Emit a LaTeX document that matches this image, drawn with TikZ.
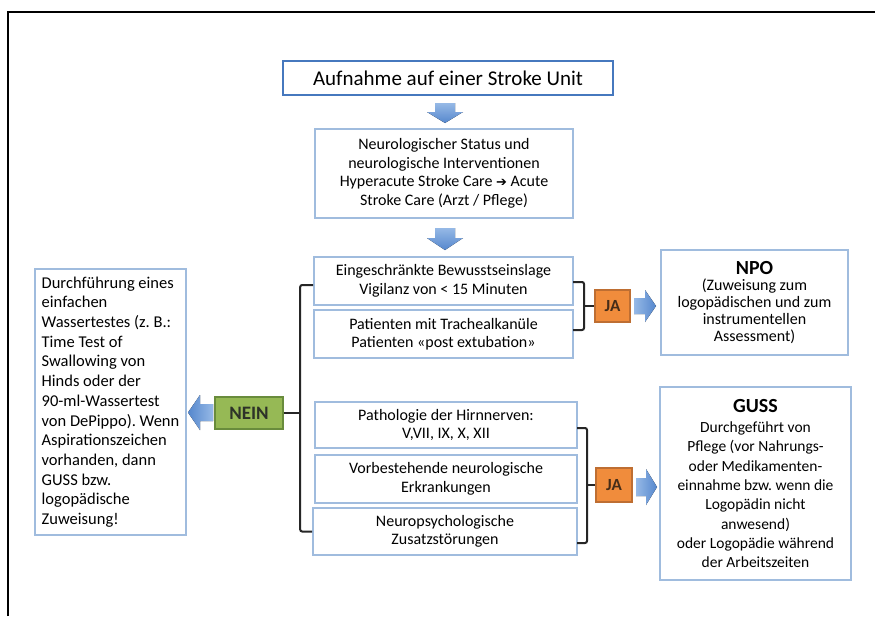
\documentclass[tikz,border=0pt]{standalone}
\usepackage{fontspec}
\setmainfont{Carlito}
\newfontfamily\symfont{DejaVu Sans}
\usetikzlibrary{calc}
\definecolor{boxline}{RGB}{160,188,222}
\definecolor{titleline}{RGB}{70,120,190}
\definecolor{jafill}{RGB}{240,140,60}
\definecolor{jaline}{RGB}{190,110,50}
\definecolor{jatext}{RGB}{70,45,25}
\definecolor{neinfill}{RGB}{150,185,85}
\definecolor{neinline}{RGB}{105,140,60}
\definecolor{neintext}{RGB}{45,50,40}
\definecolor{arrtop}{RGB}{150,185,230}
\definecolor{arrbot}{RGB}{85,135,205}
\tikzset{
  lbox/.style={draw=boxline, line width=1.6pt, fill=white, inner sep=0pt, align=center, font=\fontsize{16}{18.5}\selectfont},
  titlebox/.style={draw=titleline, line width=2.4pt, fill=white, inner sep=0pt, align=center, font=\fontsize{21}{24}\selectfont},
  jabox/.style={draw=jaline, line width=1.2pt, fill=jafill, inner sep=0pt, text=jatext, font=\fontsize{17}{18}\selectfont\bfseries},
  neinbox/.style={draw=neinline, line width=1.2pt, fill=neinfill, inner sep=0pt, text=neintext, font=\fontsize{19}{20}\selectfont\bfseries},
  brack/.style={draw=black!85, line width=2pt, rounded corners=2pt},
  blockarr/.style={top color=arrtop, bottom color=arrbot, draw=none},
  blockarrh/.style={left color=arrtop, right color=arrbot, draw=none},
  blockarrl/.style={right color=arrtop, left color=arrbot, draw=none}
}
\begin{document}
\frenchspacing
\begin{tikzpicture}[x=1pt,y=-1pt]
\useasboundingbox (0,0) rectangle (875,616);
\fill[white] (0,0) rectangle (875,616);
% frame
\draw[line width=2pt] (8,616) -- (8,12) -- (876,12);

% nodes
\node[titlebox, minimum width=330pt, minimum height=34pt] (title) at (448,78) {Aufnahme auf einer Stroke Unit};
\node[lbox, minimum width=258pt, minimum height=89pt] (status) at (444,173.5)
  {Neurologischer Status und\\neurologische Interventionen\\Hyperacute Stroke Care {\symfont\fontsize{13}{14}\selectfont\bfseries ➔} Acute\\Stroke Care (Arzt / Pflege)};
\node[lbox, minimum width=259pt, minimum height=48pt] (bew) at (443.5,281)
  {Eingeschränkte Bewusstseinslage\\Vigilanz von < 15 Minuten};
\node[lbox, minimum width=259pt, minimum height=48pt] (trach) at (443.5,334)
  {Patienten mit Trachealkanüle\\Patienten «post extubation»};
\node[lbox, minimum width=262pt, minimum height=46pt] (patho) at (446,425)
  {Pathologie der Hirnnerven:\\V,VII, IX, X, XII};
\node[lbox, minimum width=262pt, minimum height=48pt] (vorb) at (446,479)
  {Vorbestehende neurologische\\Erkrankungen};
\node[lbox, minimum width=264pt, minimum height=47pt] (neuro) at (445,531.5)
  {Neuropsychologische\\Zusatzstörungen};
\node[jabox, minimum width=35pt, minimum height=32pt] (ja1) at (612.5,306) {JA};
\node[jabox, minimum width=36pt, minimum height=34pt] (ja2) at (614,485) {JA};
\node[neinbox, minimum width=68pt, minimum height=32pt] (nein) at (249,413) {NEIN};
\node[lbox, minimum width=187pt, minimum height=105pt, font=\fontsize{16}{17}\selectfont] (npo) at (754.5,302.5)
  {{\fontsize{20}{22}\selectfont\bfseries NPO}\\[-1pt](Zuweisung zum\\logopädischen und zum\\instrumentellen\\Assessment)};
\node[lbox, minimum width=191pt, minimum height=193pt, font=\fontsize{15.5}{19.3}\selectfont] (guss) at (755.5,483.5)
  {{\fontsize{20}{22}\selectfont\bfseries GUSS}\\[1pt]Durchgeführt von\\Pflege (vor Nahrungs-\\oder Medikamenten-\\einnahme bzw. wenn die\\Logopädin nicht\\anwesend)\\oder Logopädie während\\der Arbeitszeiten};
\node[lbox, minimum width=151pt, minimum height=266pt, align=left, font=\fontsize{16.5}{19.7}\selectfont] (wasser) at (110.5,402)
  {Durchführung eines\\einfachen\\Wassertestes (z. B.:\\Time Test of\\Swallowing von\\Hinds oder der\\90-ml-Wassertest\\von DePippo). Wenn\\Aspirationszeichen\\vorhanden, dann\\GUSS bzw.\\logopädische\\Zuweisung!};

% block arrows (down)
\fill[blockarr] (435,103) -- (455,103) -- (455,112) -- (463,112) -- (445,123) -- (427,112) -- (435,112) -- cycle;
\fill[blockarr] (435,228) -- (455,228) -- (455,238) -- (463,238) -- (445,250) -- (427,238) -- (435,238) -- cycle;
% block arrows (right)
\fill[blockarrh] (634,298) -- (645,298) -- (645,290) -- (656,306) -- (645,322) -- (645,314) -- (634,314) -- cycle;
\fill[blockarrh] (636,478) -- (646,478) -- (646,469) -- (657,487) -- (646,505) -- (646,496) -- (636,496) -- cycle;
% block arrow (left)
\fill[blockarrl] (213,404) -- (200,404) -- (200,395) -- (188,412.5) -- (200,430) -- (200,421) -- (213,421) -- cycle;

% brackets
\draw[brack] (bew.west) ++(0,4) -- ++(-13,0) coordinate (lt) |- (neuro.west) ;
\draw[brack] (nein.east) -- (300,413);
\draw[brack] (573,282) -- (584,282) -- (584,330) -- (573,330);
\draw[brack] (584,306) -- (ja1.west);
\draw[brack] (577,428) -- (587,428) -- (587,543) -- (577,543);
\draw[brack] (587,485) -- (ja2.west);
\end{tikzpicture}
\end{document}
